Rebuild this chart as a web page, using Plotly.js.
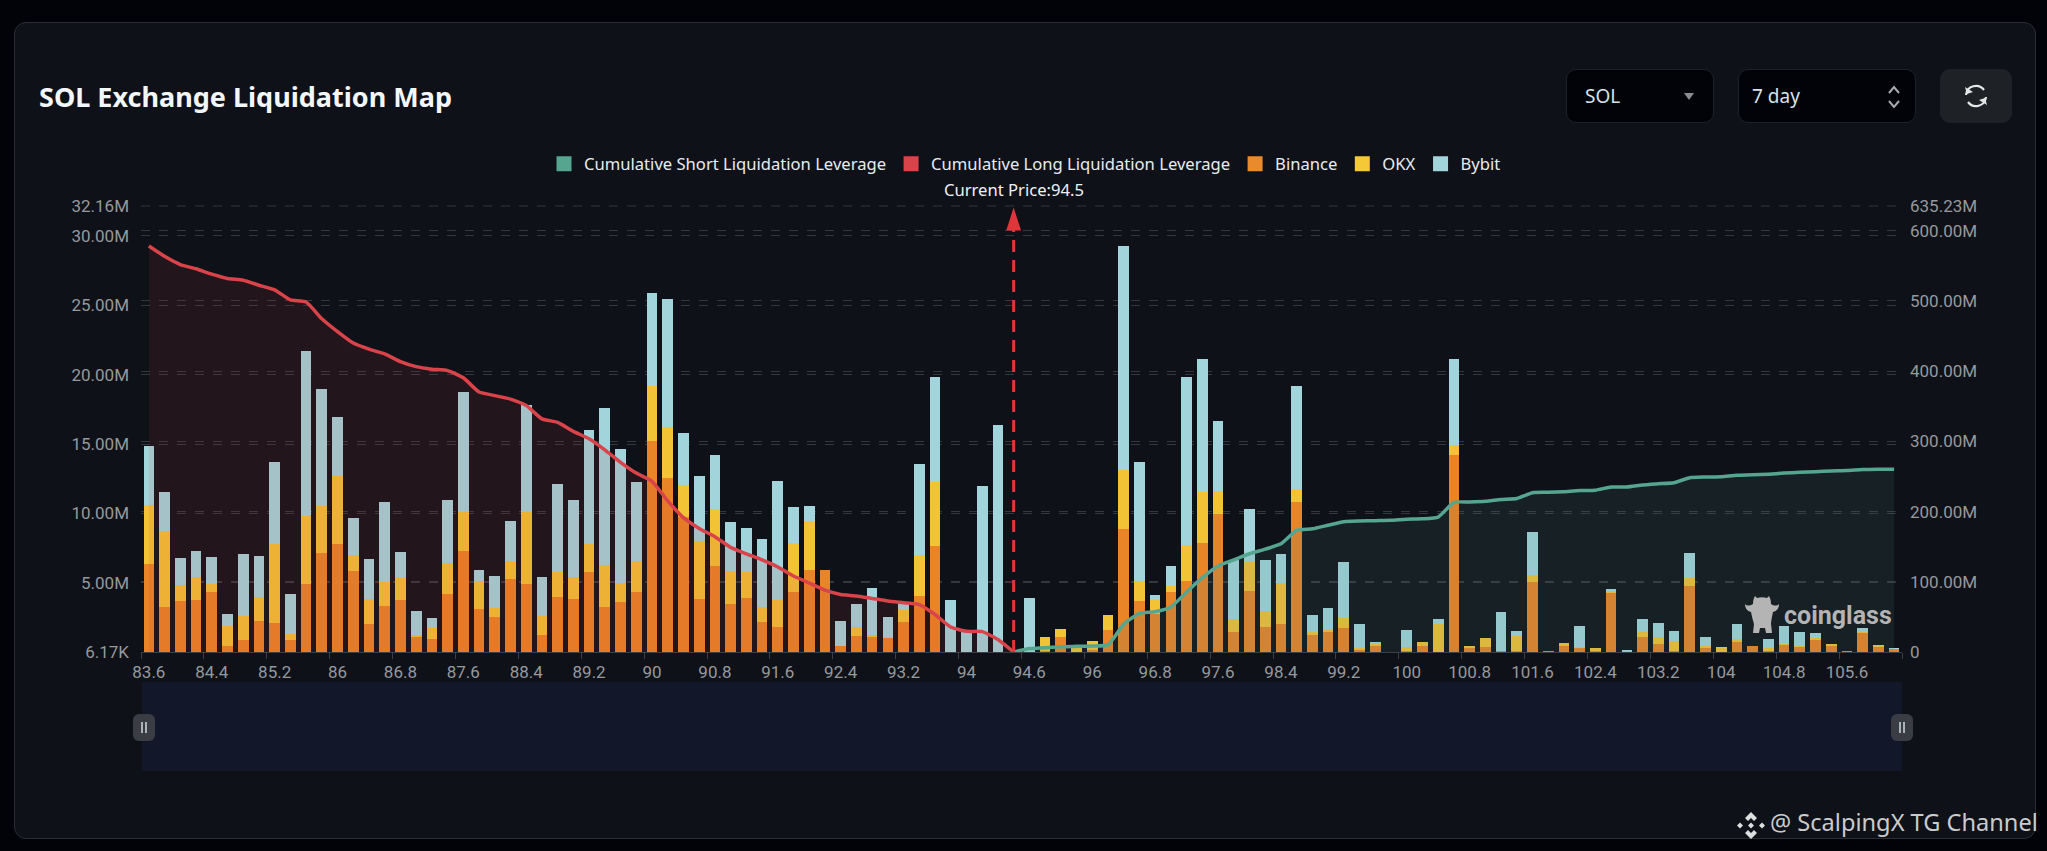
<!DOCTYPE html>
<html>
<head>
<meta charset="utf-8">
<title>SOL Exchange Liquidation Map</title>
<script src="https://cdn.plot.ly/plotly-3.0.1.min.js"></script>
<style>
	html, body { margin: 0; padding: 0; background: #020308; width: 2047px; height: 851px; overflow: hidden; }
	.box { position: absolute; box-sizing: border-box; }
	#card { left: 14px; top: 22px; width: 2022px; height: 817px; background: #0e1118; border: 1px solid #2a2d32; border-radius: 12px; }
	#slider { left: 142px; top: 682px; width: 1760px; height: 89px; background: #12182a; }
	#chart { position: absolute; left: 0; top: 0; width: 2047px; height: 851px; }
	.select { background: #020308; border: 1px solid #1e2125; border-radius: 10px; color: #d6e3ee; font: 19px "Noto Sans", sans-serif; line-height: 52px; }
	.handle { width: 22px; height: 27px; top: 714px; background: #3a3e44; border-radius: 6px; }
	.handle i { position: absolute; top: 8px; width: 2px; height: 11px; background: #a9b4b8; }
	#credit { left: 1770px; top: 806px; color: #c9cbcd; font: 23.6px "Noto Sans", sans-serif; white-space: nowrap; }
</style>
</head>
<body>
<div id="card" class="box"></div>
<div id="slider" class="box"></div>
<div id="chart"></div>

<div class="box select" style="left:1566px;top:69px;width:148px;height:54px;padding-left:18px;">SOL
	<svg class="box" style="left:116px;top:22px" width="12" height="9"><path d="M1 1H11L6 8Z" fill="#8a8d90"/></svg>
</div>
<div class="box select" style="left:1738px;top:69px;width:178px;height:54px;padding-left:13px;">7 day
	<svg class="box" style="left:148px;top:14px" width="14" height="26"><path d="M2 9L7 3L12 9M2 17L7 23L12 17" fill="none" stroke="#a8abad" stroke-width="2"/></svg>
</div>
<div class="box" style="left:1940px;top:69px;width:72px;height:54px;background:#1e2125;border-radius:10px;">
	<svg class="box" style="left:23px;top:14px" width="26" height="26" viewBox="0 0 26 26"><path d="M3 12A10 10 0 0 1 21 7M23 14A10 10 0 0 1 5 19" fill="none" stroke="#e4e6e8" stroke-width="2.2"/><path d="M2 4L4 11L10 9ZM24 22L22 15L16 17Z" fill="#e4e6e8"/></svg>
</div>

<div class="box handle" style="left:133px"><i style="left:8px"></i><i style="left:12px"></i></div>
<div class="box handle" style="left:1891px"><i style="left:8px"></i><i style="left:12px"></i></div>

<svg class="box" style="left:1744px;top:595px" width="36" height="40" viewBox="0 0 36 40">
	<path d="M1 9C3 11 6 11 9 9C9 5 10 3 11 1L13 3C16 2 20 2 23 3L25 1C26 3 27 5 27 9C30 11 33 11 35 9C35 13 33 16 29 17C28 22 27 26 27 29L28 38H22L21 33H16L15 38H9L10 29C9 26 8 22 7 17C3 16 1 13 1 9Z" fill="#b4b4b4"/>
</svg>

<svg class="box" style="left:1737px;top:812px" width="28" height="27" viewBox="0 0 28 27">
	<path d="M14 0L20 6L17 9L14 6L11 9L8 6ZM14 27L8 21L11 18L14 21L17 18L20 21ZM3 10.5L6 13.5L3 16.5L0 13.5ZM25 10.5L28 13.5L25 16.5L22 13.5ZM14 10.5L17 13.5L14 16.5L11 13.5Z" fill="#dcdee0"/>
</svg>
<div id="credit" class="box">@ ScalpingX TG Channel</div>

<script>
const categories = [
	'83.6', '83.8', '84', '84.2', '84.4', '84.6', '84.8', '85', '85.2', '85.4', '85.6', '85.8', '86', '86.2',
	'86.4', '86.6', '86.8', '87', '87.2', '87.4', '87.6', '87.8', '88', '88.2', '88.4', '88.6', '88.8', '89',
	'89.2', '89.4', '89.6', '89.8', '90', '90.2', '90.4', '90.6', '90.8', '91', '91.2', '91.4', '91.6', '91.8',
	'92', '92.2', '92.4', '92.6', '92.8', '93', '93.2', '93.4', '93.6', '93.8', '94', '94.2', '94.4', '94.5',
	'94.6', '95', '95.4', '95.6', '96', '96.2', '96.4', '96.6', '96.8', '97', '97.2', '97.4', '97.6', '97.8',
	'98', '98.2', '98.4', '98.6', '98.8', '99', '99.2', '99.4', '99.6', '99.8', '100', '100.2', '100.4', '100.6',
	'100.8', '101', '101.2', '101.4', '101.6', '101.8', '102', '102.2', '102.4', '102.6', '102.8', '103', '103.2', '103.4',
	'103.6', '103.8', '104', '104.2', '104.4', '104.6', '104.8', '105', '105.2', '105.4', '105.6', '105.8', '106', '106.2'
];

// all values in millions
const binance = [
	6.36, 3.22, 3.68, 3.76, 4.33, 0.46, 0.85, 2.24, 2.11, 0.85, 4.92, 7.11, 7.80, 5.87,
	2.06, 3.35, 3.79, 1.08, 0.93, 4.20, 7.29, 3.14, 2.50, 5.28, 4.92, 1.24, 3.94, 3.86,
	5.74, 3.22, 3.61, 4.30, 15.19, 12.57, 9.73, 3.86, 6.23, 3.48, 3.91, 2.14, 1.83, 4.33,
	5.95, 5.90, 0.44, 1.18, 1.11, 1.03, 2.14, 4.07, 7.62, 0.03, 0, 0, 0, 0,
	0, 0.08, 1.06, 0, 0.13, 1.60, 8.88, 3.71, 2.78, 4.30, 5.12, 7.83, 9.92, 1.44,
	4.43, 1.80, 2.03, 10.82, 1.21, 1.47, 1.75, 0.18, 0.44, 0.03, 0.05, 0.41, 0.03, 14.24,
	0.33, 0.36, 0.05, 0.05, 5.05, 0.10, 0.41, 0.26, 0.05, 4.25, 0.03, 1.11, 0.57, 0.05,
	4.79, 0.26, 0.03, 0.70, 0.41, 0.10, 0.49, 0.36, 0.90, 0.46, 0.08, 1.36, 0.36, 0.21
];
const okx = [
	4.28, 5.49, 1.18, 1.65, 0.59, 1.42, 1.73, 1.73, 5.69, 0.46, 4.89, 3.43, 4.87, 1.11,
	1.78, 1.67, 1.57, 0.13, 0.80, 2.24, 2.81, 1.96, 0.67, 1.29, 5.18, 1.36, 1.80, 1.55,
	2.06, 3.06, 1.34, 2.24, 3.97, 3.66, 2.29, 4.12, 4.09, 2.40, 1.85, 1.11, 1.91, 3.50,
	3.48, 0, 0, 0.64, 0.13, 0.05, 0.90, 2.91, 4.64, 0, 0, 0, 0, 0,
	0, 0.98, 0.59, 0.33, 0.64, 1.11, 4.22, 1.42, 0.98, 0.46, 2.58, 3.68, 1.67, 0.95,
	2.06, 1.18, 2.94, 0.95, 0.23, 0.18, 0.72, 0.15, 0.21, 0, 0.31, 0.31, 1.96, 0.67,
	0.13, 0.64, 0.03, 1.13, 0.49, 0, 0.23, 0.08, 0.21, 0.05, 0.03, 0.33, 0.52, 0.72,
	0.57, 0.21, 0.23, 0.23, 0, 0.21, 0.10, 0.05, 0.08, 0.15, 0, 0.08, 0.08, 0
];
const bybit = [
	4.25, 2.81, 1.91, 1.88, 1.93, 0.85, 4.46, 2.99, 5.87, 2.86, 11.90, 8.42, 4.28, 2.70,
	2.86, 5.77, 1.85, 1.78, 0.75, 4.51, 8.68, 0.82, 2.32, 2.86, 7.70, 2.83, 6.36, 5.54,
	8.19, 11.31, 9.68, 5.69, 6.75, 9.25, 3.79, 4.74, 3.91, 3.53, 3.19, 4.89, 8.58, 2.60,
	1.08, 0, 1.83, 1.65, 3.37, 1.47, 0.52, 6.57, 7.57, 3.71, 1.49, 11.98, 16.40, 0,
	3.91, 0, 0, 0, 0, 0, 16.20, 8.58, 0.33, 1.42, 12.16, 9.63, 5.05, 4.25,
	3.81, 3.63, 2.09, 7.39, 1.24, 1.52, 4.04, 1.67, 0.05, 0, 1.26, 0, 0.41, 6.21,
	0, 0, 2.78, 0.36, 3.09, 0, 0.03, 1.52, 0, 0.26, 0.08, 0.93, 1.00, 0.77,
	1.80, 0.64, 0.10, 1.11, 0, 0.64, 1.29, 1.03, 0.39, 0, 0, 0.28, 0.10, 0.05
];
const cumulativeLong = [
	578.3, 563.6, 551.9, 545.8, 538.2, 532, 529.5, 522.4, 515.8, 501.5, 498.5, 474.6, 456.3, 440,
	431.3, 424.7, 413.5, 406.4, 402.8, 400.8, 390.6, 370.3, 365.2, 360.1, 351, 332.1, 327.1, 314.3,
	303.7, 287.9, 270.1, 254.8, 243.1, 215.2, 191.3, 176, 164.3, 149, 139.9, 131.2, 121.1, 108.3,
	98.2, 88, 81.9, 79.9, 76.3, 72.7, 70.2, 67.6, 53.4, 35.6, 29.5, 29, 17.8, 0
];
const cumulativeShort = [
	0, 5.1, 6.1, 7.6, 8.1, 8.6, 10.2, 39.7, 55, 57.5, 64.1, 85.4, 105.8, 122.6, 131.2,
	139.9, 146.5, 154.1, 173.4, 175.5, 180.6, 185.6, 186.6, 187.1, 187.6, 189.2, 189.7, 192.2, 213.1,
	213.6, 214.6, 217.2, 218.7, 226.9, 227.4, 228.4, 229.9, 230.4, 235, 235, 238, 239.6, 241.1,
	248.2, 249.2, 249.7, 251.8, 252.3, 253.3, 254.8, 255.9, 256.9, 257.9, 258.4, 259.9, 260.4, 260.4
];
const currentPrice = '94.5';

const leftTicks = [0.00617, 5, 10, 15, 20, 25, 30, 32.16];
const leftLabels = ['6.17K', '5.00M', '10.00M', '15.00M', '20.00M', '25.00M', '30.00M', '32.16M'];
const rightTicks = [0, 100, 200, 300, 400, 500, 600, 635.23];
const rightLabels = ['0', '100.00M', '200.00M', '300.00M', '400.00M', '500.00M', '600.00M', '635.23M'];

const tickFont = { family: 'Roboto, sans-serif', size: 17, color: '#96999d' };
const gridColor = '#34373c';

function barTrace(name, values, color) {
	return { type: 'bar', name, x: categories, y: values, marker: { color }, showlegend: false };
}

// lines draw as little lines in a plotly legend, the chart has squares for all five
function legendSquare(name, color) {
	return {
		type: 'scatter', mode: 'markers', name, x: [null], y: [null],
		marker: { symbol: 'square', size: 15, color }
	};
}

const traces = [
	barTrace('Binance', binance, '#e98427'),
	barTrace('OKX', okx, '#f2c335'),
	barTrace('Bybit', bybit, '#a2d5db'),
	{
		type: 'scatter', mode: 'lines', name: 'Cumulative Long Liquidation Leverage', yaxis: 'y2',
		x: categories.slice(0, cumulativeLong.length), y: cumulativeLong,
		line: { color: '#d9434a', width: 3.5, shape: 'spline', smoothing: 0.5 },
		fill: 'tozeroy', fillcolor: 'rgba(200,53,59,0.113)', showlegend: false
	},
	{
		type: 'scatter', mode: 'lines', name: 'Cumulative Short Liquidation Leverage', yaxis: 'y2',
		x: categories.slice(categories.length - cumulativeShort.length), y: cumulativeShort,
		line: { color: '#56a58f', width: 3.5, shape: 'spline', smoothing: 0.5 },
		fill: 'tozeroy', fillcolor: 'rgba(80,125,120,0.14)', showlegend: false
	},
	{
		type: 'scatter', mode: 'lines', yaxis: 'y2', showlegend: false, name: 'Current Price',
		x: [currentPrice, currentPrice], y: [0, 610],
		line: { color: '#e0353a', width: 3, dash: '12px,8px' }
	},
	{
		type: 'scatter', mode: 'markers', yaxis: 'y2', showlegend: false, name: 'Current Price',
		x: [currentPrice], y: [633],
		marker: { symbol: 'arrow', size: 24, color: '#e0353a', line: { width: 0 } }
	},
	legendSquare('Cumulative Short Liquidation Leverage', '#56a58f'),
	legendSquare('Cumulative Long Liquidation Leverage', '#d9434a'),
	legendSquare('Binance', '#e98a2c'),
	legendSquare('OKX', '#f5c838'),
	legendSquare('Bybit', '#a2d5db')
];

const layout = {
	width: 2047,
	height: 851,
	autosize: false,
	margin: { l: 141, r: 145, t: 206, b: 199, pad: 0 },
	paper_bgcolor: 'rgba(0,0,0,0)',
	plot_bgcolor: 'rgba(0,0,0,0)',
	barmode: 'stack',
	bargap: 0.32,
	hovermode: false,
	title: {
		text: '<b>SOL Exchange Liquidation Map</b>',
		font: { family: '"Noto Sans", sans-serif', size: 27, color: '#f4f7fa' },
		xref: 'container', yref: 'container', x: 39 / 2047, xanchor: 'left', y: 1 - 98 / 851, yanchor: 'middle'
	},
	legend: {
		orientation: 'h', x: 0.502, xanchor: 'center', y: 1.094, yanchor: 'middle',
		font: { family: '"Noto Sans", sans-serif', size: 16.6, color: '#e8ecef' },
		traceorder: 'normal', itemclick: false, itemdoubleclick: false
	},
	xaxis: {
		type: 'category',
		categoryorder: 'array',
		categoryarray: categories,
		tickson: 'boundaries',
		tick0: 0,
		dtick: 4,
		ticks: 'outside',
		ticklen: 6,
		tickcolor: '#3b3e43',
		showline: true,
		linecolor: '#3b3e43',
		showgrid: false,
		tickfont: tickFont,
		tickangle: 0,
		ticklabelstandoff: 5,
		automargin: false
	},
	yaxis: {
		range: [0.00617, 32.16],
		tickmode: 'array',
		tickvals: leftTicks,
		ticktext: leftLabels,
		tickfont: tickFont,
		ticklabelstandoff: 11,
		showgrid: true,
		gridcolor: gridColor,
		griddash: 'dash',
		zeroline: false,
		showline: false,
		automargin: false
	},
	yaxis2: {
		overlaying: 'y',
		side: 'right',
		range: [0, 635.23],
		tickmode: 'array',
		tickvals: rightTicks,
		ticktext: rightLabels,
		tickfont: tickFont,
		ticklabelstandoff: 7,
		showgrid: true,
		gridcolor: gridColor,
		griddash: 'dash',
		zeroline: false,
		showline: false,
		automargin: false
	},
	// plotly drops the gridline sitting exactly on the end of the range
	shapes: [
		{ type: 'line', xref: 'paper', yref: 'paper', x0: 0, x1: 1, y0: 1, y1: 1, line: { color: gridColor, width: 1, dash: 'dash' } }
	],
	annotations: [
		{
			text: 'Current Price:' + currentPrice,
			x: categories.indexOf(currentPrice), xref: 'x', y: 1, yref: 'paper', yanchor: 'bottom', yshift: 3,
			showarrow: false,
			font: { family: '"Noto Sans", sans-serif', size: 16.6, color: '#eef1f3' }
		},
		{
			text: '<b>coinglass</b>',
			x: 1, xref: 'paper', xanchor: 'right', xshift: -8,
			y: (652 - 615) / 446, yref: 'paper', yanchor: 'middle',
			showarrow: false,
			font: { family: 'Roboto, sans-serif', size: 25, color: '#b4b4b4' }
		}
	]
};

Plotly.newPlot('chart', traces, layout, { displayModeBar: false, staticPlot: true });
</script>
</body>
</html>
